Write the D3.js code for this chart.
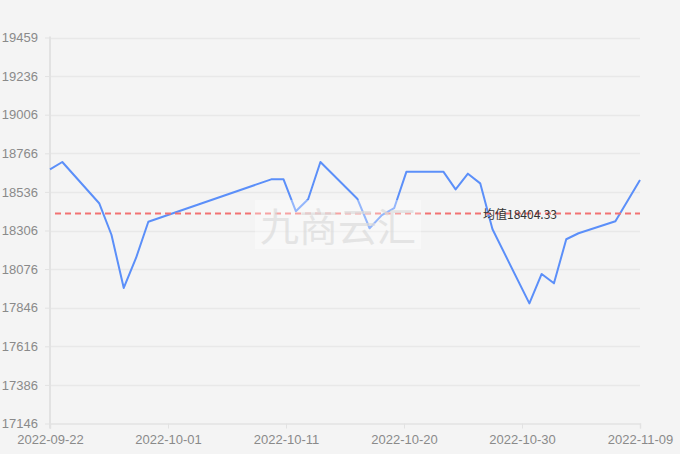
<!DOCTYPE html>
<html><head><meta charset="utf-8">
<script src="https://cdn.jsdelivr.net/npm/d3@7"></script>
<style>
html,body{margin:0;padding:0;background:#f4f4f4;}
svg{display:block;font-family:"Noto Sans CJK SC","Noto Sans",sans-serif;}
</style></head>
<body>
<svg id="c" width="680" height="454"></svg>
<script>
const dates = ["2022-09-22","2022-09-23","2022-09-26","2022-09-27","2022-09-28","2022-09-29","2022-09-30",
"2022-10-10","2022-10-11","2022-10-12","2022-10-13","2022-10-14","2022-10-17","2022-10-18","2022-10-19",
"2022-10-20","2022-10-21","2022-10-24","2022-10-25","2022-10-26","2022-10-27","2022-10-28","2022-10-31",
"2022-11-01","2022-11-02","2022-11-03","2022-11-04","2022-11-07","2022-11-09"];
const prices = [18669,18713,18466,18277,17958,18138,18355,
18609,18609,18418,18490,18713,18493,18316,18395,
18436,18655,18655,18549,18643,18585,18310,17866,
18042,17986,18250,18286,18358,18605];
const yTickLabels = ["17146","17386","17616","17846","18076","18306","18536","18766","19006","19236","19459"];
const xTickLabels = ["2022-09-22","2022-10-01","2022-10-11","2022-10-20","2022-10-30","2022-11-09"];
const meanValue = 18404.33;
const meanLabel = "均值18404.33";
const watermark = "九商云汇";
const yMin = 17146, yMax = 19459;

const svg = d3.select("#c");
const L = 50, R = 640, T = 37.5, B = 423.5;
const parse = d3.timeParse("%Y-%m-%d");
const t0 = parse(xTickLabels[0]), t1 = parse(xTickLabels[xTickLabels.length-1]);
const x = d3.scaleTime().domain([t0, t1]).range([L, R]);
const y = d3.scaleLinear().domain([yMin, yMax]).range([B, T]);

// y grid and labels (evenly split)
const nY = yTickLabels.length - 1;
const yVals = yTickLabels.map((_, i) => yMin + (yMax - yMin) * i / nY);
const yAxis = d3.axisLeft(y).tickValues(yVals).tickFormat((d, i) => yTickLabels[i]).tickSize(5).tickPadding(7);
const gy = svg.append("g").attr("transform", `translate(${L},0)`).call(yAxis);
gy.select(".domain").remove();
gy.selectAll("line").attr("stroke", "#e2e2e2");
gy.selectAll("text").attr("fill", "#8a8a8a").style("font-size", "13px");
svg.append("g").selectAll("line").data(yVals.slice(1)).join("line")
  .attr("x1", L).attr("x2", R).attr("y1", d => Math.round(y(d)) + 0.5).attr("y2", d => Math.round(y(d)) + 0.5)
  .attr("stroke", "#e8e8e8").attr("stroke-width", 1.5);

// x axis
const nX = xTickLabels.length - 1;
const xVals = xTickLabels.map((_, i) => new Date(+t0 + (t1 - t0) * i / nX));
const xAxis = d3.axisBottom(x).tickValues(xVals).tickFormat((d, i) => xTickLabels[i]).tickSize(5).tickPadding(6);
const gx = svg.append("g").attr("transform", `translate(0,${B})`).call(xAxis);
gx.select(".domain").attr("stroke", "#e2e2e2").attr("stroke-width", 1.5);
gx.selectAll("line").attr("stroke", "#e2e2e2");
gx.selectAll("text").attr("fill", "#8a8a8a").style("font-size", "13px");
svg.append("line").attr("x1", L).attr("x2", L).attr("y1", T - 1).attr("y2", B + 5)
  .attr("stroke", "#e2e2e2").attr("stroke-width", 2);

// data line
const pts = dates.map((d, i) => ({t: parse(d), v: prices[i]}));
svg.append("path").datum(pts)
  .attr("d", d3.line().x(d => x(d.t)).y(d => y(d.v)))
  .attr("fill", "none").attr("stroke", "#5b8ff9").attr("stroke-width", 2).attr("stroke-linejoin", "round");

// mean line
svg.append("line").attr("x1", L + 5).attr("x2", R).attr("y1", y(meanValue)).attr("y2", y(meanValue))
  .attr("stroke", "#f27272").attr("stroke-width", 2).attr("stroke-dasharray", "6,4");
svg.append("text").attr("x", 483).attr("y", y(meanValue) + 5)
  .attr("fill", "#333").style("font-size", "12px").text(meanLabel);

// watermark
svg.append("rect").attr("x", 255).attr("y", 200).attr("width", 166).attr("height", 49)
  .attr("fill", "#ffffff").attr("opacity", 0.35);
svg.append("text").attr("x", 338).attr("y", 241).attr("text-anchor", "middle")
  .attr("fill", "#dcdcdc").attr("opacity", 0.7).style("font-size", "39px").text(watermark);
</script>
</body></html>
